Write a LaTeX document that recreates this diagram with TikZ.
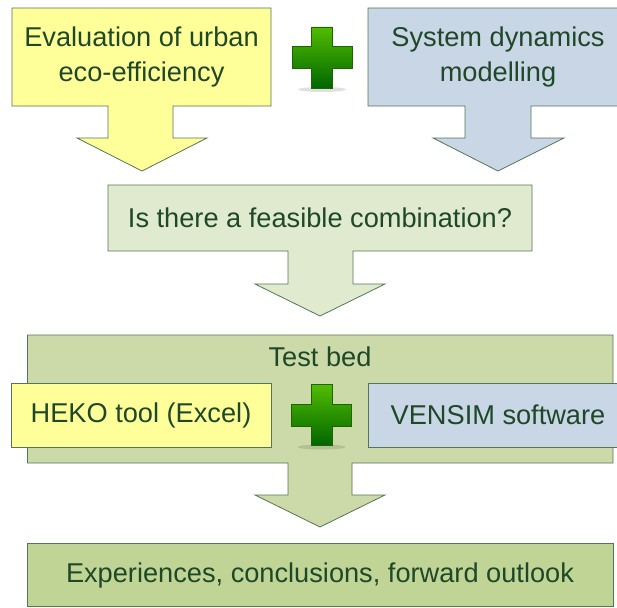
\documentclass[tikz,border=0pt]{standalone}
\usepackage{fontspec}
\setmainfont{Liberation Sans}
\definecolor{edge}{RGB}{84,118,84}
\definecolor{ink}{RGB}{30,72,40}
\definecolor{paleyellow}{RGB}{255,255,153}
\definecolor{paleblue}{RGB}{200,214,230}
\definecolor{palegreen}{RGB}{224,234,206}
\definecolor{midgreen}{RGB}{204,218,170}
\definecolor{deepgreen}{RGB}{192,212,150}
\definecolor{plustop}{RGB}{82,188,0}
\definecolor{plusbot}{RGB}{0,102,0}
\definecolor{plusedge}{RGB}{30,100,0}
\tikzset{
  flow/.style={draw=edge, line width=0.8pt, line join=miter},
  txt/.style={text=ink, font=\fontsize{27.2}{35}\selectfont, align=center, inner sep=0pt},
  plusmark/.style={top color=plustop, bottom color=plusbot, draw=plusedge, line width=0.6pt},
  plus/.pic={
    \fill[black, opacity=0.12] (0,32) ellipse (24 and 2.5);
    \shade[plusmark] (-10.5,-30.5) -- (10.5,-30.5) -- (10.5,-11) -- (30,-11)
      -- (30,11) -- (10.5,11) -- (10.5,30.5) -- (-10.5,30.5) -- (-10.5,11)
      -- (-30,11) -- (-30,-11) -- (-10.5,-11) -- cycle;
  }
}
\begin{document}
\begin{tikzpicture}[x=1pt, y=-1pt]
\useasboundingbox (0,0) rectangle (617,607);

% first input: evaluation
\path[flow, fill=paleyellow] (12,8) -- (271,8) -- (271,106) -- (173,106) -- (173,138)
  -- (207,138) -- (142,171) -- (77,138) -- (108,138) -- (108,106) -- (12,106) -- cycle;
\node[txt] (eval) at (141.5,57) {Evaluation of urban\\eco-efficiency};

% second input: system dynamics
\path[flow, fill=paleblue] (368,8) -- (628,8) -- (628,106) -- (531,106) -- (531,138)
  -- (564,138) -- (498,171) -- (433,138) -- (465,138) -- (465,106) -- (368,106) -- cycle;
\node[txt] (sysdyn) at (498,57) {System dynamics\\modelling};

\pic (plusA) at (322,57.5) {plus};

% question
\path[flow, fill=palegreen] (108,185) -- (532,185) -- (532,251) -- (353,251) -- (353,284)
  -- (385,284) -- (320,316) -- (255,284) -- (288,284) -- (288,251) -- (108,251) -- cycle;
\node[txt] (question) at (320,218) {Is there a feasible combination?};

% test bed
\path[flow, fill=midgreen] (27.5,335) -- (613,335) -- (613,463) -- (352,463) -- (352,495)
  -- (385,495) -- (320,527) -- (255,495) -- (288,495) -- (288,463) -- (27.5,463) -- cycle;
\node[txt] (testbed) at (320,357) {Test bed};

\path[flow, fill=paleyellow] (11,383) rectangle (271,447);
\node[txt] (heko) at (141,415) {HEKO tool (Excel)};
\path[flow, fill=paleblue] (368,383) rectangle (628,447);
\node[txt] (vensim) at (498,415) {VENSIM software};

\pic (plusB) at (321.5,415) {plus};

% outcome
\path[flow, fill=deepgreen] (27.5,543) rectangle (613,606);
\node[txt] (outcome) at (320,575) {Experiences, conclusions, forward outlook};
\end{tikzpicture}
\end{document}
